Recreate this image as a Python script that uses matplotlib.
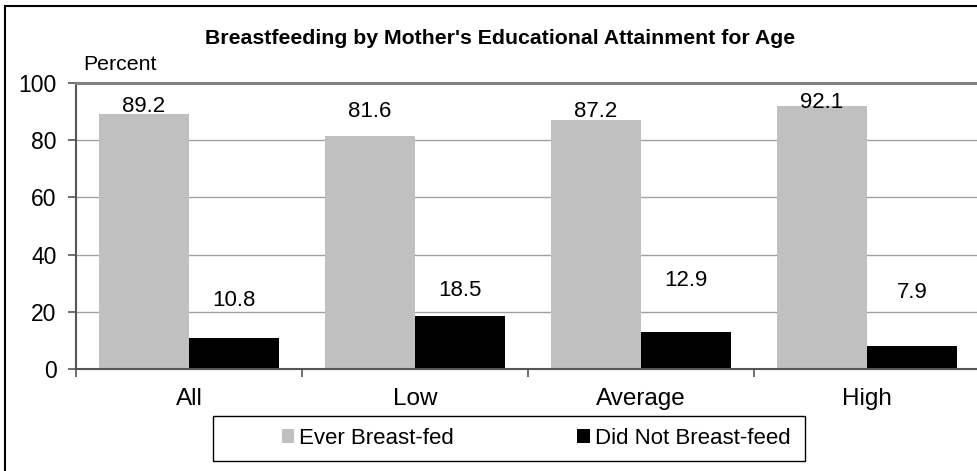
import matplotlib
matplotlib.use("Agg")
import matplotlib.pyplot as plt
from matplotlib.patches import Rectangle, Patch
import numpy as np

plt.rcParams['font.family'] = ['Liberation Sans', 'DejaVu Sans']

categories = ["All", "Low", "Average", "High"]
ever_breastfed = [89.2, 81.6, 87.2, 92.1]
did_not_breastfeed = [10.8, 18.5, 12.9, 7.9]
series_names = ["Ever Breast-fed", "Did Not Breast-feed"]
yticks = [0, 20, 40, 60, 80, 100]
title = "Breastfeeding by Mother's Educational Attainment for Age"
ylabel = "Percent"

# label offsets (style, data units above value)
ever_label_dy = [0.7, 6.5, 0.9, -0.8]
did_label_dy = [11.2, 7.0, 16.1, 16.9]

W, H = 977, 471
fig = plt.figure(figsize=(W / 100, H / 100), dpi=100)
fig.patch.set_facecolor('white')

def fx(px):
    return px / W

def fy(py):
    return 1 - py / H

ax = fig.add_axes([fx(76), fy(369), fx(980) - fx(76), fy(83) - fy(369)])

x = np.arange(len(categories))
bw = 0.4
ax.bar(x - bw / 2, ever_breastfed, width=bw, color='#C0C0C0', zorder=2)
ax.bar(x + bw / 2, did_not_breastfeed, width=bw, color='#000000', zorder=2)

for i, v in enumerate(ever_breastfed):
    ax.text(x[i] - bw / 2, v + ever_label_dy[i], f"{v:.1f}", ha='center', va='baseline',
            fontsize=16, color='black', zorder=3)
for i, v in enumerate(did_not_breastfeed):
    ax.text(x[i] + bw / 2, v + did_label_dy[i], f"{v:.1f}", ha='center', va='baseline',
            fontsize=16, color='black', zorder=3)

ax.set_xlim(-0.5, len(categories) - 0.5)
ax.set_ylim(0, 100)
ax.set_yticks(yticks)
ax.set_yticklabels([str(t) for t in yticks], fontsize=16.5)
ax.yaxis.grid(True, color='#A0A0A0', linewidth=1.0, zorder=0)
ax.set_axisbelow(True)

ax.set_xticks(x)
ax.set_xticklabels(categories, fontsize=17.5)
ax.set_xticks(np.arange(-0.5, len(categories), 1.0), minor=True)
ax.tick_params(axis='x', which='major', length=0, pad=14)
ax.tick_params(axis='x', which='minor', length=6, width=1.2, color='#555555', direction='out')
ax.tick_params(axis='y', length=6, width=1.2, color='#555555', direction='out', pad=8)

for s in ['left', 'bottom']:
    ax.spines[s].set_color('#555555')
    ax.spines[s].set_linewidth(1.5)
ax.spines['top'].set_color('#808080')
ax.spines['top'].set_linewidth(2.2)
ax.spines['right'].set_visible(False)

fig.text(fx(500), fy(38), title, ha='center', va='center', fontsize=15.3, fontweight='bold')
fig.text(fx(83), fy(70), ylabel, ha='left', va='baseline', fontsize=15.3)

# outer chart frame
fig.patches.append(Rectangle((fx(5), -0.1), 1.2, fy(6) + 0.1, transform=fig.transFigure,
                             fill=False, edgecolor='black', linewidth=1.5, zorder=10))

# legend frame
fig.patches.append(Rectangle((fx(213), fy(461)), fx(805) - fx(213), fy(416) - fy(461),
                             transform=fig.transFigure, fill=False, edgecolor='black',
                             linewidth=1.0, zorder=10))
handles = [Patch(facecolor='#C0C0C0', edgecolor='none'), Patch(facecolor='#000000', edgecolor='none')]
leg = fig.legend(handles, series_names, ncol=2, loc='center left',
                 bbox_to_anchor=(fx(282), fy(438.5)), frameon=False, fontsize=16,
                 handlelength=0.56, handleheight=0.56, handletextpad=0.22,
                 columnspacing=5.55, borderpad=0, borderaxespad=0)

fig.savefig("out.png", dpi=100, facecolor='white')
